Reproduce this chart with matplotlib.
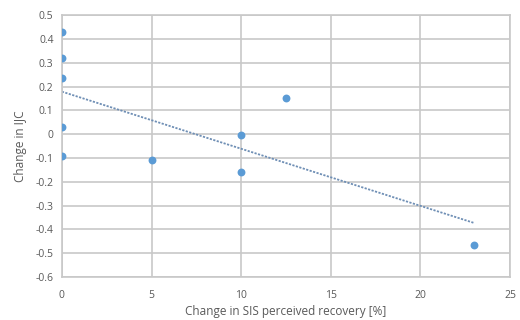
import numpy as np
import matplotlib
matplotlib.use("Agg")
import matplotlib.pyplot as plt

recovery = [0, 0, 0, 0, 0, 5, 10, 10, 12.5, 23]
ijc_change = [0.43, 0.32, 0.235, 0.03, -0.09, -0.11, -0.005, -0.16, 0.15, -0.465]
x_ticks = [0, 5, 10, 15, 20, 25]
y_ticks = [0.5, 0.4, 0.3, 0.2, 0.1, 0, -0.1, -0.2, -0.3, -0.4, -0.5, -0.6]

plt.rcParams["font.family"] = ["Open Sans", "DejaVu Sans"]
text_color = "#595959"

fig = plt.figure(figsize=(5.2, 3.2), dpi=100)
ax = fig.add_axes([0.119, 0.134, 0.862, 0.819])

# linear trendline through the points
slope, intercept = np.polyfit(recovery, ijc_change, 1)
fit_x = np.array([min(recovery), max(recovery)])
ax.plot(fit_x, slope * fit_x + intercept, linestyle=(0, (1.2, 0.8)), color="#6f8fb5", linewidth=1.3, zorder=2)
ax.scatter(recovery, ijc_change, s=32, color="#5B9BD5", zorder=3, linewidths=0)

ax.set_xlim(0, 25)
ax.set_ylim(-0.6, 0.5)
ax.set_xticks(x_ticks)
ax.set_yticks(y_ticks)
ax.set_yticklabels([f"{v:g}" for v in y_ticks])
ax.grid(True, color="#c8c8c8", linewidth=1.2)
ax.set_axisbelow(True)
for spine in ax.spines.values():
    spine.set_color("#c8c8c8")
    spine.set_linewidth(1.2)
ax.tick_params(length=0, labelsize=7.5, colors=text_color)
ax.tick_params(axis="x", pad=9)
ax.tick_params(axis="y", pad=6)
ax.set_xlabel("Change in SIS perceived recovery [%]", fontsize=8.5, color=text_color, labelpad=3)
ax.set_ylabel("Change in IJC", fontsize=8.5, color=text_color, labelpad=6)

fig.savefig("out.png", dpi=100)
plt.close(fig)
